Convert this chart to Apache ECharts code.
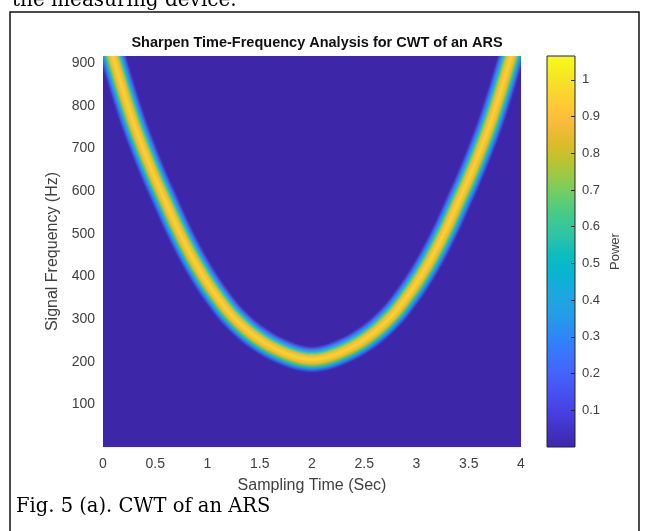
<!DOCTYPE html>
<html>
<head>
<meta charset="utf-8">
<script src="https://cdn.jsdelivr.net/npm/echarts@6/dist/echarts.min.js"></script>
<style>
html,body{margin:0;padding:0;background:#fff;}
#chart{width:647px;height:531px;}
</style>
</head>
<body>
<div id="chart"></div>
<script>
// ---- data ----
const timeSec = [0.0,0.1,0.2,0.3,0.4,0.5,0.6,0.7,0.8,0.9,1.0,1.1,1.2,1.3,1.4,1.5,1.6,1.7,1.8,1.9,2.0,
                 2.1,2.2,2.3,2.4,2.5,2.6,2.7,2.8,2.9,3.0,3.1,3.2,3.3,3.4,3.5,3.6,3.7,3.8,3.9,4.0];
const ridgeHz = [995,912,830,755,690,630,575,520,470,425,385,350,318,292,270,252,237,225,215,208,205,
                 208,215,225,237,252,270,292,318,350,385,425,470,520,575,630,690,755,830,912,995];
const xTickInterval = 0.5;
const yTickInterval = 100;
const freqMax = 917;
const powerMin = 0;
const powerMax = 1.065;
const powerTickInterval = 0.1;
const titleText = 'Sharpen Time-Frequency Analysis for CWT of an ARS';
const xName = 'Sampling Time (Sec)';
const yName = 'Signal Frequency (Hz)';
const cbName = 'Power';

// parula colormap stops
const parula = [
  [0.000,'#3E26A8'],[0.095,'#4741E5'],[0.190,'#4563FD'],[0.238,'#3875FE'],[0.286,'#2E87F7'],
  [0.333,'#259BE8'],[0.397,'#1CA9DF'],[0.444,'#08B5D0'],[0.492,'#0BBDBD'],[0.540,'#2CC4A7'],
  [0.587,'#3FCA8E'],[0.635,'#64CD6F'],[0.683,'#8FCB4E'],[0.730,'#B9C431'],[0.778,'#DCBD29'],
  [0.825,'#F8BA3D'],[0.873,'#FEC934'],[0.921,'#F7DC2A'],[0.968,'#F6EF20'],[1.000,'#F9FB15']
];

const ridgeData = timeSec.map((t,i)=>[t, ridgeHz[i]]);

// cross-section layers of the ridge (outer to inner)
const layers = [
  {w:24, c:'#4A5AF0', o:0.55},
  {w:20, c:'#2E87F7', o:0.9},
  {w:16, c:'#1CB0D6', o:1},
  {w:13, c:'#3FCA8E', o:1},
  {w:10, c:'#B9C431', o:1},
  {w:7.5, c:'#F5BB3B', o:1},
  {w:3,  c:'#F7D52C', o:0.7}
];

const chart = echarts.init(document.getElementById('chart'), null, {renderer:'canvas'});
const txt = '#404040';
const font = 'Liberation Sans';

const option = {
  animation:false,
  backgroundColor:'#ffffff',
  textStyle:{fontFamily:font},
  title:{
    text:titleText, left:312, top:30, textAlign:'center', z:10,
    textStyle:{fontFamily:font, fontSize:14.5, fontWeight:'bold', color:'#111'}
  },
  grid:[
    {left:103, top:56, width:418, height:391, show:true, backgroundColor:'#3E26A8', borderWidth:0},
    {left:547, top:56, width:28, height:391, show:false}
  ],
  xAxis:[
    {type:'value', gridIndex:0, min:0, max:4, interval:xTickInterval,
     axisLine:{show:false, onZero:false}, axisTick:{show:false}, splitLine:{show:false},
     axisLabel:{color:txt, fontSize:14, margin:10, fontFamily:font},
     name:xName, nameLocation:'middle', nameGap:31,
     nameTextStyle:{color:txt, fontSize:16, fontFamily:font}},
    {type:'value', gridIndex:1, min:0, max:1, show:false, axisLine:{onZero:false}}
  ],
  yAxis:[
    {type:'value', gridIndex:0, min:0, max:freqMax, interval:yTickInterval,
     axisLine:{show:false, onZero:false}, axisTick:{show:false}, splitLine:{show:false},
     axisLabel:{color:txt, fontSize:14, margin:8, fontFamily:font, showMinLabel:false, showMaxLabel:false},
     showMinLabel:false, showMaxLabel:false,
     name:yName, nameLocation:'middle', nameGap:38, nameRotate:90,
     nameTextStyle:{color:txt, fontSize:16, fontFamily:font}},
    {type:'value', gridIndex:1, min:powerMin, max:powerMax, interval:powerTickInterval, position:'right', z:5,
     axisLine:{show:false, onZero:false}, axisTick:{show:true, inside:true, length:4, lineStyle:{color:'#262626'}},
     splitLine:{show:false},
     axisLabel:{color:txt, fontSize:13, margin:7, fontFamily:font, showMinLabel:false, showMaxLabel:false},
     name:cbName, nameLocation:'middle', nameGap:34, nameRotate:90,
     nameTextStyle:{color:txt, fontSize:13, fontFamily:font}}
  ],
  series:[
    {
      type:'custom', xAxisIndex:0, yAxisIndex:0, silent:true, clip:true, z:2,
      data: ridgeData,
      renderItem:function(params, api){
        if (params.dataIndex !== 0) return null;
        const pts = ridgeData.map(d => api.coord(d));
        return {
          type:'group',
          children: layers.map(L => ({
            type:'polyline',
            shape:{points:pts, smooth:0.35},
            style:{fill:null, stroke:L.c, lineWidth:L.w, opacity:L.o, lineCap:'round', lineJoin:'round',
                   shadowBlur:3, shadowColor:L.c}
          }))
        };
      }
    },
    {
      type:'custom', xAxisIndex:1, yAxisIndex:1, silent:true, z:1,
      data:[[0, powerMin, 1, powerMax]],
      renderItem:function(params, api){
        const p0 = api.coord([api.value(0), api.value(1)]);
        const p1 = api.coord([api.value(2), api.value(3)]);
        return {
          type:'rect',
          shape:{x:p0[0], y:p1[1], width:p1[0]-p0[0], height:p0[1]-p1[1]},
          style:{
            fill:{type:'linear', x:0, y:1, x2:0, y2:0,
                  colorStops: parula.map(s=>({offset:s[0], color:s[1]}))},
            stroke:'#262626', lineWidth:1
          }
        };
      }
    }
  ],
  graphic:[
    {type:'rect', shape:{x:10, y:12, width:629, height:540}, style:{fill:null, stroke:'#111', lineWidth:1.5}, z:100},
    {type:'text', left:12, top:-9, style:{text:'the measuring device.', font:'20px "DejaVu Serif"', fill:'#000'}, z:100},
    {type:'text', left:16, top:497, style:{text:'Fig. 5 (a). CWT of an ARS', font:'19.5px "DejaVu Serif"', fill:'#000'}, z:100}
  ]
};
chart.setOption(option);
</script>
</body>
</html>
